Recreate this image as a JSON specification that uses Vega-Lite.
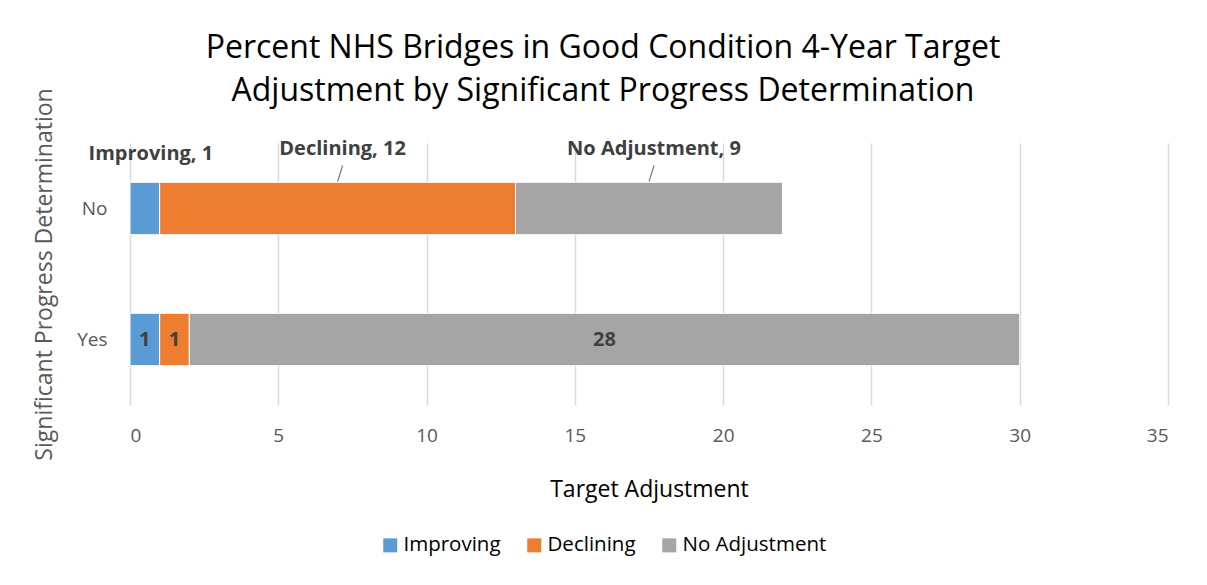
{
  "$schema": "https://vega.github.io/schema/vega-lite/v6.json",
  "width": 1038,
  "height": 262,
  "autosize": {"type": "none"},
  "padding": {"left": 130, "top": 143, "right": 39, "bottom": 180},
  "background": "white",
  "config": {
    "font": "Open Sans",
    "view": {"stroke": null},
    "axis": {"labelFont": "Open Sans", "titleFont": "Open Sans", "titleFontWeight": "normal"}
  },
  "title": {
    "text": ["Percent NHS Bridges in Good Condition 4-Year Target", "Adjustment by Significant Progress Determination"],
    "font": "Open Sans",
    "fontSize": 32,
    "fontWeight": "normal",
    "color": "#000000",
    "anchor": "middle",
    "dx": -46,
    "offset": -20,
    "lineHeight": 43
  },
  "data": {
    "values": [
      {"spd": "No", "cat": "Improving", "value": 1, "ord": 1},
      {"spd": "No", "cat": "Declining", "value": 12, "ord": 2},
      {"spd": "No", "cat": "No Adjustment", "value": 9, "ord": 3},
      {"spd": "Yes", "cat": "Improving", "value": 1, "ord": 1},
      {"spd": "Yes", "cat": "Declining", "value": 1, "ord": 2},
      {"spd": "Yes", "cat": "No Adjustment", "value": 28, "ord": 3}
    ]
  },
  "transform": [
    {"stack": "value", "groupby": ["spd"], "sort": [{"field": "ord"}], "as": ["x0", "x1"]},
    {"calculate": "(datum.x0 + datum.x1) / 2", "as": "mid"},
    {"calculate": "datum.cat + ', ' + datum.value", "as": "label"}
  ],
  "encoding": {
    "y": {
      "field": "spd",
      "type": "nominal",
      "scale": {"domain": ["No", "Yes"], "paddingInner": 0.6, "paddingOuter": 0.3},
      "axis": {
        "title": "Significant Progress Determination",
        "titleFontSize": 23,
        "titleColor": "#595959",
        "titlePadding": 20,
        "labelFontSize": 19,
        "labelColor": "#595959",
        "labelPadding": 23,
        "ticks": false,
        "domain": false
      }
    }
  },
  "layer": [
    {
      "mark": {"type": "bar", "stroke": "white", "strokeWidth": 1},
      "encoding": {
        "x": {
          "field": "x0",
          "type": "quantitative",
          "scale": {"domain": [0, 35], "nice": false},
          "axis": {
            "title": "Target Adjustment",
            "titleFontSize": 23,
            "titleColor": "#000000",
            "titlePadding": 33,
            "values": [0, 5, 10, 15, 20, 25, 30, 35],
            "labelFontSize": 19,
            "labelColor": "#595959",
            "labelPadding": 21,
            "ticks": false,
            "domain": false,
            "grid": true,
            "gridColor": "#d9d9d9",
            "gridWidth": 1.5
          }
        },
        "x2": {"field": "x1"},
        "color": {
          "field": "cat",
          "type": "nominal",
          "scale": {"domain": ["Improving", "Declining", "No Adjustment"], "range": ["#5B9BD5", "#ED7D31", "#A5A5A5"]},
          "legend": {
            "title": null,
            "orient": "none",
            "direction": "horizontal",
            "legendX": 250,
            "legendY": 392,
            "symbolType": "square",
            "symbolSize": 196,
            "symbolStrokeWidth": 0,
            "labelOffset": 3,
            "labelFontSize": 20.5,
            "labelColor": "#000000",
            "labelFont": "Open Sans",
            "columnPadding": 23
          }
        }
      }
    },
    {
      "transform": [{"filter": "datum.spd == 'Yes'"}],
      "mark": {"type": "text", "font": "Open Sans", "fontSize": 20, "fontWeight": "bold", "color": "#404040", "baseline": "middle"},
      "encoding": {
        "x": {"field": "mid", "type": "quantitative"},
        "text": {"field": "value"}
      }
    },
    {
      "transform": [{"filter": "datum.spd == 'No' && datum.cat == 'Improving'"}],
      "mark": {"type": "text", "font": "Open Sans", "fontSize": 20, "fontWeight": "bold", "color": "#404040", "baseline": "middle", "dy": -55, "dx": 6},
      "encoding": {
        "x": {"field": "mid", "type": "quantitative"},
        "text": {"field": "label"}
      }
    },
    {
      "transform": [{"filter": "datum.spd == 'No' && datum.cat != 'Improving'"}],
      "mark": {"type": "text", "font": "Open Sans", "fontSize": 20, "fontWeight": "bold", "color": "#404040", "baseline": "middle", "dy": -60, "dx": 5},
      "encoding": {
        "x": {"field": "mid", "type": "quantitative"},
        "text": {"field": "label"}
      }
    },
    {
      "transform": [{"filter": "datum.spd == 'No' && datum.cat != 'Improving'"}],
      "mark": {"type": "rule", "color": "#7f7f7f", "strokeWidth": 1.2, "yOffset": -27, "y2Offset": -43, "x2Offset": 5},
      "encoding": {
        "x": {"field": "mid", "type": "quantitative"},
        "x2": {"field": "mid"},
        "y2": {"field": "spd"}
      }
    }
  ]
}
